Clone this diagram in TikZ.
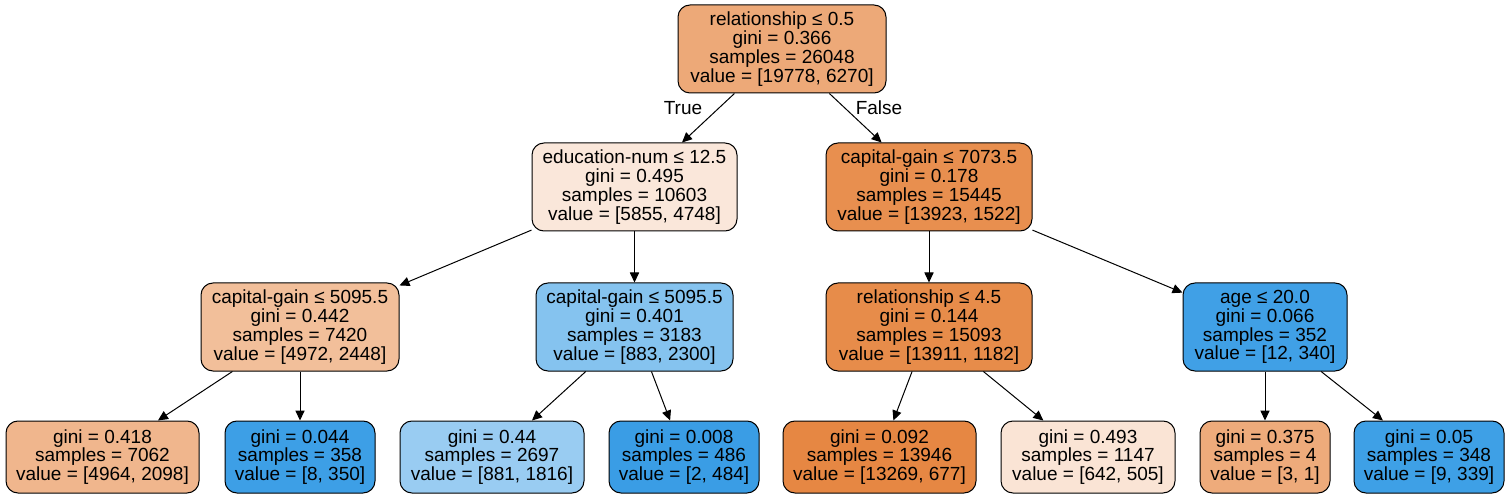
\documentclass[tikz,border=0pt]{standalone}
\usepackage{fontspec}
\setmainfont{Liberation Sans}
\usetikzlibrary{arrows.meta}
\definecolor{cRoot}{RGB}{237,169,120}
\definecolor{cEdu}{RGB}{250,231,218}
\definecolor{cCgA}{RGB}{232,143,79}
\definecolor{cCgL}{RGB}{242,191,154}
\definecolor{cCgR}{RGB}{133,195,239}
\definecolor{cRel}{RGB}{231,140,74}
\definecolor{cAge}{RGB}{64,160,230}
\definecolor{cLa}{RGB}{240,182,141}
\definecolor{cLb}{RGB}{61,159,230}
\definecolor{cLc}{RGB}{153,204,242}
\definecolor{cLd}{RGB}{58,157,229}
\definecolor{cLe}{RGB}{230,135,67}
\definecolor{cLf}{RGB}{250,228,213}
\definecolor{cLg}{RGB}{238,171,123}
\definecolor{cLh}{RGB}{62,160,230}
\begin{document}
\begin{tikzpicture}[x=0.5pt,y=-0.5pt,
  tn/.style={draw=black, line width=0.5pt, rounded corners=6pt, align=center,
    font=\fontsize{9.5}{9.4}\selectfont, inner sep=0pt, minimum height=44pt},
  lf/.style={tn, minimum height=36pt},
  edge/.style={-{Triangle[length=5pt,width=4.6pt]}, line width=0.5pt},
  lbl/.style={font=\fontsize{9.5}{9.4}\selectfont, inner sep=0pt}]
\useasboundingbox (0,0) rectangle (1510,497);
\node[tn, fill=cRoot, minimum width=104pt] (root) at (782,49)
  {relationship ≤ 0.5\\gini = 0.366\\samples = 26048\\value = [19778, 6270]};
\node[tn, fill=cEdu, minimum width=102.5pt] (edu) at (634.5,187)
  {education-num ≤ 12.5\\gini = 0.495\\samples = 10603\\value = [5855, 4748]};
\node[tn, fill=cCgA, minimum width=103pt] (cga) at (929,187)
  {capital-gain ≤ 7073.5\\gini = 0.178\\samples = 15445\\value = [13923, 1522]};
\node[tn, fill=cCgL, minimum width=99pt] (cgl) at (300,327)
  {capital-gain ≤ 5095.5\\gini = 0.442\\samples = 7420\\value = [4972, 2448]};
\node[tn, fill=cCgR, minimum width=98.5pt] (cgr) at (634.5,327)
  {capital-gain ≤ 5095.5\\gini = 0.401\\samples = 3183\\value = [883, 2300]};
\node[tn, fill=cRel, minimum width=103pt] (rel) at (929,327)
  {relationship ≤ 4.5\\gini = 0.144\\samples = 15093\\value = [13911, 1182]};
\node[tn, fill=cAge, minimum width=82pt] (age) at (1265,327)
  {age ≤ 20.0\\gini = 0.066\\samples = 352\\value = [12, 340]};
\node[lf, fill=cLa, minimum width=96.5pt] (la) at (102.5,457)
  {gini = 0.418\\samples = 7062\\value = [4964, 2098]};
\node[lf, fill=cLb, minimum width=75pt] (lb) at (300,457)
  {gini = 0.044\\samples = 358\\value = [8, 350]};
\node[lf, fill=cLc, minimum width=92pt] (lc) at (492,457)
  {gini = 0.44\\samples = 2697\\value = [881, 1816]};
\node[lf, fill=cLd, minimum width=75pt] (ld) at (684,457)
  {gini = 0.008\\samples = 486\\value = [2, 484]};
\node[lf, fill=cLe, minimum width=96.5pt] (le) at (879.5,457)
  {gini = 0.092\\samples = 13946\\value = [13269, 677]};
\node[lf, fill=cLf, minimum width=87pt] (lf6) at (1088,457)
  {gini = 0.493\\samples = 1147\\value = [642, 505]};
\node[lf, fill=cLg, minimum width=65pt] (lg) at (1265,457)
  {gini = 0.375\\samples = 4\\value = [3, 1]};
\node[lf, fill=cLh, minimum width=75pt] (lh) at (1429,457)
  {gini = 0.05\\samples = 348\\value = [9, 339]};
\draw[edge] (root) -- (edu);
\draw[edge] (root) -- (cga);
\draw[edge] (edu) -- (cgl);
\draw[edge] (edu) -- (cgr);
\draw[edge] (cga) -- (rel);
\draw[edge] (cga) -- (age);
\draw[edge] (cgl) -- (la);
\draw[edge] (cgl) -- (lb);
\draw[edge] (cgr) -- (lc);
\draw[edge] (cgr) -- (ld);
\draw[edge] (rel) -- (le);
\draw[edge] (rel) -- (lf6);
\draw[edge] (age) -- (lg);
\draw[edge] (age) -- (lh);
\node[lbl] (tl) at (683,108) {True};
\node[lbl] (fl) at (879,108) {False};
\end{tikzpicture}
\end{document}
